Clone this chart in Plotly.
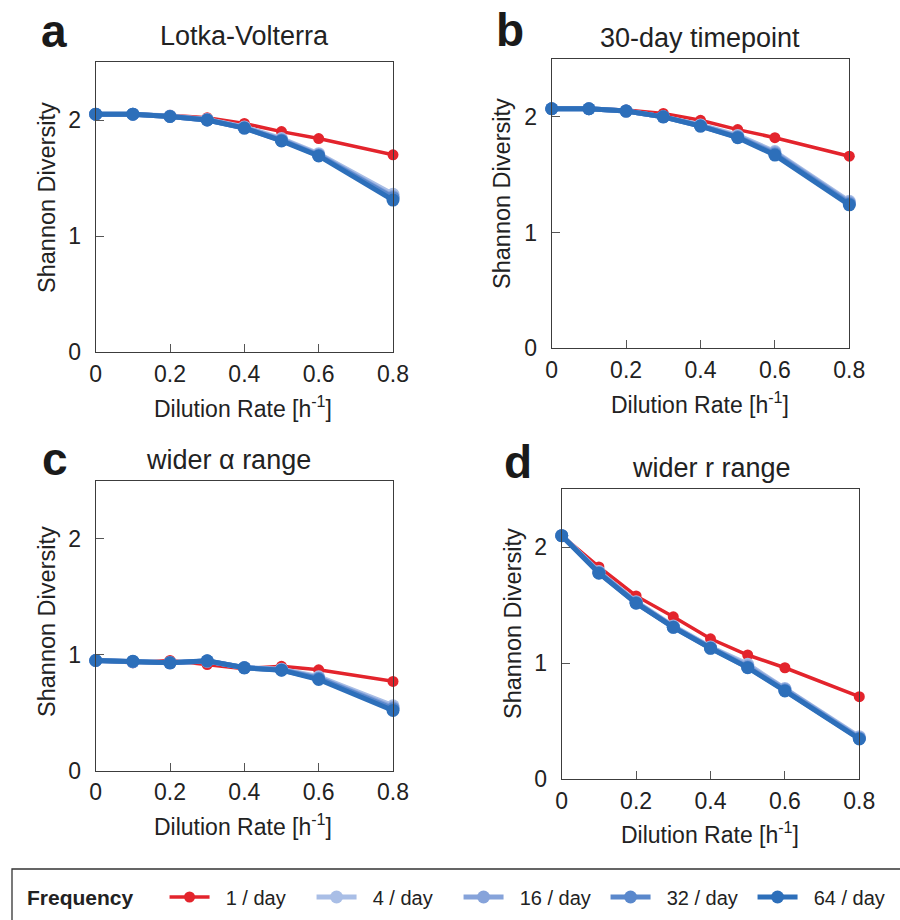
import plotly.graph_objects as go

# ---------------- data ----------------
dilution = [0, 0.1, 0.2, 0.3, 0.4, 0.5, 0.6, 0.8]
freq_labels = ["1 / day", "4 / day", "16 / day", "32 / day", "64 / day"]
x_ticks = [0, 0.2, 0.4, 0.6, 0.8]
x_tick_text = ["0", "0.2", "0.4", "0.6", "0.8"]
y_ticks = [0, 1, 2]
y_tick_text = ["0", "1", "2"]

panel_letters = ["a", "b", "c", "d"]
panel_titles = ["Lotka-Volterra", "30-day timepoint", "wider \u03b1 range", "wider r range"]

# panel a: Lotka-Volterra
lv_1 = [2.05, 2.05, 2.04, 2.02, 1.97, 1.90, 1.84, 1.70]
lv_4 = [2.05, 2.05, 2.035, 2.005, 1.94, 1.84, 1.71, 1.36]
lv_16 = [2.05, 2.05, 2.03, 2.0, 1.935, 1.83, 1.70, 1.34]
lv_32 = [2.05, 2.05, 2.03, 2.0, 1.93, 1.825, 1.695, 1.33]
lv_64 = [2.05, 2.05, 2.03, 2.0, 1.93, 1.82, 1.69, 1.31]

# panel b: 30-day timepoint
d30_1 = [2.07, 2.07, 2.06, 2.03, 1.97, 1.89, 1.82, 1.66]
d30_4 = [2.07, 2.07, 2.05, 2.0, 1.93, 1.84, 1.70, 1.27]
d30_16 = [2.07, 2.07, 2.05, 2.0, 1.925, 1.83, 1.69, 1.26]
d30_32 = [2.07, 2.07, 2.05, 2.0, 1.92, 1.825, 1.68, 1.25]
d30_64 = [2.07, 2.07, 2.05, 2.0, 1.92, 1.82, 1.67, 1.24]

# panel c: wider alpha range
wa_1 = [0.95, 0.93, 0.95, 0.915, 0.88, 0.90, 0.87, 0.77]
wa_4 = [0.95, 0.94, 0.93, 0.945, 0.89, 0.875, 0.81, 0.56]
wa_16 = [0.95, 0.94, 0.93, 0.945, 0.888, 0.87, 0.80, 0.545]
wa_32 = [0.95, 0.94, 0.93, 0.945, 0.887, 0.868, 0.795, 0.535]
wa_64 = [0.95, 0.944, 0.93, 0.947, 0.887, 0.867, 0.786, 0.52]

# panel d: wider r range
wr_1 = [2.10, 1.83, 1.58, 1.40, 1.21, 1.07, 0.96, 0.71]
wr_4 = [2.10, 1.79, 1.53, 1.32, 1.14, 0.99, 0.78, 0.365]
wr_16 = [2.10, 1.785, 1.525, 1.315, 1.135, 0.975, 0.775, 0.355]
wr_32 = [2.10, 1.78, 1.52, 1.31, 1.13, 0.965, 0.765, 0.35]
wr_64 = [2.10, 1.776, 1.517, 1.309, 1.128, 0.961, 0.76, 0.345]

panels = [
    [lv_1, lv_4, lv_16, lv_32, lv_64],
    [d30_1, d30_4, d30_16, d30_32, d30_64],
    [wa_1, wa_4, wa_16, wa_32, wa_64],
    [wr_1, wr_4, wr_16, wr_32, wr_64],
]

# ---------------- styling ----------------
W, H = 900, 920
FONT = "Liberation Sans, Arial, Helvetica, sans-serif"
colors = ["#e3242c", "#a9bee6", "#86a3da", "#5a88cc", "#2d6fba"]
line_w = [3.5, 5, 5, 5, 5]
marker_s = [11, 13, 13, 13, 13]
NB = "\u00a0"

# plot-area boxes in pixels: (left, right, top, bottom)
boxes = [
    (95.7, 393.0, 62.0, 352.0),
    (551.7, 849.3, 59.0, 348.3),
    (95.7, 393.0, 480.7, 770.7),
    (561.7, 859.3, 489.3, 779.0),
]

def px_x(v):
    return v / W

def px_y(v):
    return 1 - v / H

fig = go.Figure()

for p, series in enumerate(panels):
    sfx = "" if p == 0 else str(p + 1)
    for i, ys in enumerate(series):
        fig.add_trace(go.Scatter(
            x=dilution, y=ys, mode="lines+markers",
            name=NB + NB + freq_labels[i], legendgroup=freq_labels[i],
            showlegend=(p == 0),
            line=dict(color=colors[i], width=line_w[i]),
            marker=dict(color=colors[i], size=marker_s[i]),
            cliponaxis=False,
            xaxis="x" + sfx, yaxis="y" + sfx,
        ))

layout = dict(
    width=W, height=H,
    margin=dict(l=0, r=0, t=0, b=0, autoexpand=False),
    paper_bgcolor="white", plot_bgcolor="white",
    font=dict(family=FONT, color="#222222"),
)

axis_common = dict(
    showline=True, mirror=True, linecolor="#3c3c3c", linewidth=1.2,
    showgrid=False, zeroline=False, automargin=False,
    ticks="inside", ticklen=8, tickcolor="#555555", tickwidth=1,
    tickfont=dict(family=FONT, size=23, color="#222222"),
)

annotations = []
for p, (l, r, t, b) in enumerate(boxes):
    sfx = "" if p == 0 else str(p + 1)
    layout["xaxis" + sfx] = dict(
        axis_common, domain=[px_x(l), px_x(r)], range=[0, 0.8],
        tickvals=x_ticks, ticktext=x_tick_text, anchor="y" + sfx,
        ticklabelstandoff=1,
    )
    layout["yaxis" + sfx] = dict(
        axis_common, domain=[px_y(b), px_y(t)], range=[0, 2.5],
        tickvals=y_ticks, ticktext=y_tick_text, anchor="x" + sfx,
        ticklabelstandoff=9,
    )

# text placements (pixel centers)
letter_pos = [(54, 31), (510, 30), (55, 459), (518, 462)]
title_pos = [(244, 36), (700, 38), (228, 460), (711, 468)]
ylabel_pos = [(47, 198), (502, 194), (47, 622), (513, 624)]
xlabel_pos = [(243, 407), (700, 403), (243, 825), (710, 833)]

for p in range(4):
    lx, ly = letter_pos[p]
    annotations.append(dict(
        text="<b>" + panel_letters[p] + "</b>", x=px_x(lx), y=px_y(ly),
        xref="paper", yref="paper", showarrow=False,
        xanchor="center", yanchor="middle",
        font=dict(family=FONT, size=46, color="#1a1a1a"),
    ))
    tx, ty = title_pos[p]
    annotations.append(dict(
        text=panel_titles[p], x=px_x(tx), y=px_y(ty),
        xref="paper", yref="paper", showarrow=False,
        xanchor="center", yanchor="middle",
        font=dict(family=FONT, size=27, color="#222222"),
    ))
    yx, yy = ylabel_pos[p]
    annotations.append(dict(
        text="Shannon Diversity", x=px_x(yx), y=px_y(yy),
        xref="paper", yref="paper", showarrow=False, textangle=-90,
        xanchor="center", yanchor="middle",
        font=dict(family=FONT, size=23.5, color="#222222"),
    ))
    xx, xy = xlabel_pos[p]
    annotations.append(dict(
        text="Dilution Rate [h<sup>-1</sup>]", x=px_x(xx), y=px_y(xy),
        xref="paper", yref="paper", showarrow=False,
        xanchor="center", yanchor="middle",
        font=dict(family=FONT, size=23, color="#222222"),
    ))

layout["annotations"] = annotations

# legend frame (extends past the canvas like the reference)
layout["shapes"] = [dict(
    type="rect", xref="paper", yref="paper",
    x0=px_x(12), x1=1.05, y0=-0.05, y1=px_y(869),
    line=dict(color="#333333", width=1.3), fillcolor="rgba(0,0,0,0)",
)]

layout["legend"] = dict(
    orientation="h", x=px_x(25), y=px_y(897), xanchor="left", yanchor="middle",
    title=dict(text="<b>Frequency</b>" + NB * 4,
               font=dict(family=FONT, size=21, color="#222222"), side="left"),
    font=dict(family=FONT, size=20, color="#222222"),
    bgcolor="rgba(0,0,0,0)", borderwidth=0,
    itemwidth=40, entrywidth=92, tracegroupgap=0,
)

fig.update_layout(**layout)
fig.write_html("out.html", config={"displayModeBar": False},
               post_script="document.body.style.margin='0px';")
